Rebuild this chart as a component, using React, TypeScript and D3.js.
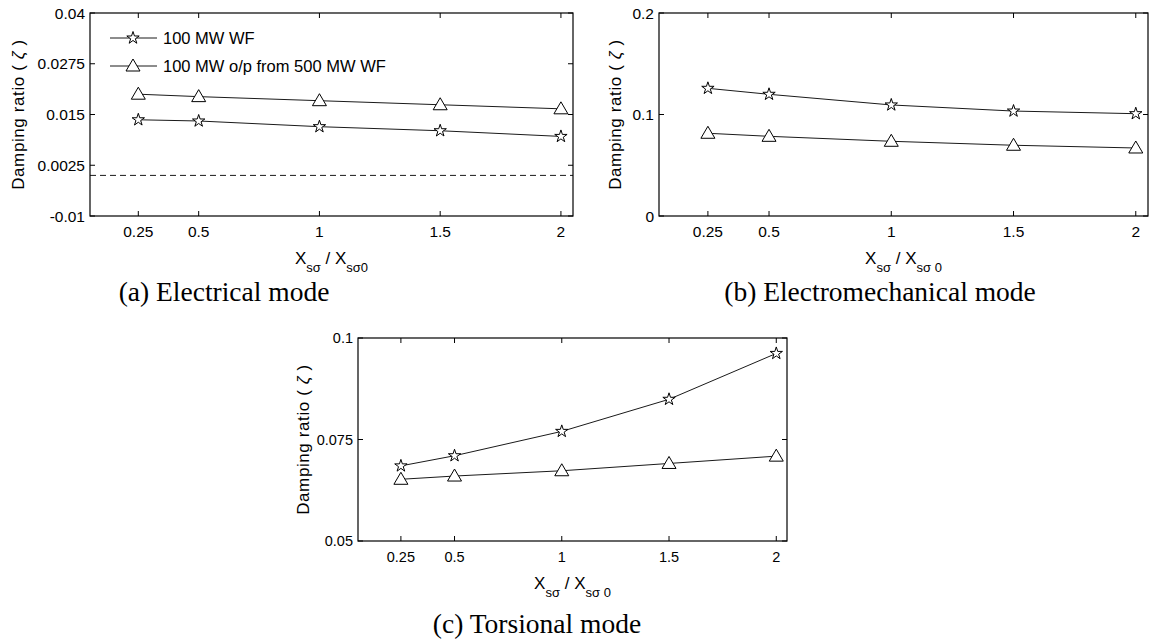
import React from "react";
import * as d3 from "d3";

// ---- data ----
const xValues = [0.25, 0.5, 1, 1.5, 2];
const xTickLabels = ["0.25", "0.5", "1", "1.5", "2"];
const seriesNames = ["100 MW WF", "100 MW o/p from 500 MW WF"];

const electrical100WF = [0.0137, 0.0134, 0.012, 0.011, 0.0096];
const electrical500WF = [0.02, 0.0194, 0.0184, 0.0174, 0.0164];
const electricalYTicks = [-0.01, 0.0025, 0.015, 0.0275, 0.04];
const electricalYTickLabels = ["-0.01", "0.0025", "0.015", "0.0275", "0.04"];

const electromech100WF = [0.1258, 0.1199, 0.1094, 0.1034, 0.1008];
const electromech500WF = [0.0815, 0.0785, 0.0736, 0.0697, 0.067];
const electromechYTicks = [0, 0.1, 0.2];
const electromechYTickLabels = ["0", "0.1", "0.2"];

const torsional100WF = [0.0685, 0.071, 0.077, 0.0849, 0.0962];
const torsional500WF = [0.0652, 0.066, 0.0673, 0.0691, 0.0709];
const torsionalYTicks = [0.05, 0.075, 0.1];
const torsionalYTickLabels = ["0.05", "0.075", "0.1"];

const xDomain: [number, number] = [0.05, 2.05];

const SANS = "Arial, 'Liberation Sans', Helvetica, sans-serif";
const SERIF = "'Times New Roman', 'Liberation Serif', serif";
const LINE = "#1a1a1a";

function starPath(r: number) {
  const ri = r * 0.382;
  const pts: string[] = [];
  for (let i = 0; i < 10; i++) {
    const a = -Math.PI / 2 + (i * Math.PI) / 5;
    const rr = i % 2 === 0 ? r : ri;
    pts.push(`${(rr * Math.cos(a)).toFixed(2)},${(rr * Math.sin(a)).toFixed(2)}`);
  }
  return "M" + pts.join("L") + "Z";
}
const triPath = "M0,-7L7,5L-7,5Z";

function Marker({ kind, x, y }: { kind: string; x: number; y: number }) {
  return (
    <path
      d={kind === "star" ? starPath(6.5) : triPath}
      transform={`translate(${x},${y})`}
      fill="white"
      stroke="#000"
      strokeWidth={1}
    />
  );
}

type PanelProps = {
  box: { x0: number; y0: number; x1: number; y1: number };
  yDomain: [number, number];
  yTicks: number[];
  yTickLabels: string[];
  s1: number[];
  s2: number[];
  legend?: boolean;
  zeroLine?: boolean;
  tickFont: number;
  yLabelX: number;
  xLabelSpace: boolean;
  caption: string;
  captionX: number;
  captionY: number;
};

function Panel(p: PanelProps) {
  const { box } = p;
  const x = d3.scaleLinear().domain(xDomain).range([box.x0, box.x1]);
  const y = d3.scaleLinear().domain(p.yDomain).range([box.y1, box.y0]);
  const line = d3
    .line<number>()
    .x((_, i) => x(xValues[i]))
    .y((d) => y(d));
  const tl = 5;
  const cx = (box.x0 + box.x1) / 2;
  const cy = (box.y0 + box.y1) / 2;
  return (
    <g>
      {p.zeroLine && (
        <line
          x1={box.x0}
          x2={box.x1}
          y1={y(0)}
          y2={y(0)}
          stroke={LINE}
          strokeWidth={1}
          strokeDasharray="6,4"
        />
      )}
      {xValues.map((v, i) => (
        <g key={"xt" + i}>
          <line x1={x(v)} x2={x(v)} y1={box.y1} y2={box.y1 - tl} stroke="#000" />
          <line x1={x(v)} x2={x(v)} y1={box.y0} y2={box.y0 + tl} stroke="#000" />
          <text
            x={x(v)}
            y={box.y1 + 21}
            textAnchor="middle"
            fontFamily={SANS}
            fontSize={p.tickFont}
          >
            {xTickLabels[i]}
          </text>
        </g>
      ))}
      {p.yTicks.map((v, i) => (
        <g key={"yt" + i}>
          <line x1={box.x0} x2={box.x0 + tl} y1={y(v)} y2={y(v)} stroke="#000" />
          <line x1={box.x1} x2={box.x1 - tl} y1={y(v)} y2={y(v)} stroke="#000" />
          <text
            x={box.x0 - 5}
            y={y(v)}
            dy="0.36em"
            textAnchor="end"
            fontFamily={SANS}
            fontSize={p.tickFont}
          >
            {p.yTickLabels[i]}
          </text>
        </g>
      ))}
      <rect
        x={box.x0}
        y={box.y0}
        width={box.x1 - box.x0}
        height={box.y1 - box.y0}
        fill="none"
        stroke="#000"
        strokeWidth={1.2}
      />
      <path d={line(p.s1) || ""} fill="none" stroke={LINE} strokeWidth={1} />
      <path d={line(p.s2) || ""} fill="none" stroke={LINE} strokeWidth={1} />
      {p.s1.map((v, i) => (
        <Marker key={"a" + i} kind="star" x={x(xValues[i])} y={y(v)} />
      ))}
      {p.s2.map((v, i) => (
        <Marker key={"b" + i} kind="tri" x={x(xValues[i])} y={y(v)} />
      ))}
      {p.legend && (
        <g>
          {seriesNames.map((name, i) => {
            const ly = box.y0 + 25 + i * 28;
            return (
              <g key={"lg" + i}>
                <line x1={box.x0 + 20} x2={box.x0 + 67} y1={ly} y2={ly} stroke={LINE} />
                <Marker kind={i === 0 ? "star" : "tri"} x={box.x0 + 43} y={ly} />
                <text
                  x={box.x0 + 73}
                  y={ly}
                  dy="0.36em"
                  fontFamily={SANS}
                  fontSize={16.5}
                >
                  {name}
                </text>
              </g>
            );
          })}
        </g>
      )}
      <text
        transform={`translate(${p.yLabelX},${cy}) rotate(-90)`}
        textAnchor="middle"
        dy="0.36em"
        fontFamily={SANS}
        fontSize={17}
        letterSpacing={0.6}
      >
        {"Damping ratio (  "}
        <tspan fontStyle="italic">ζ</tspan>
        {"  )"}
      </text>
      <text x={cx} y={box.y1 + 48} textAnchor="middle" fontFamily={SANS} fontSize={17}>
        <tspan>X</tspan>
        <tspan dy={8} fontSize={13}>
          sσ
        </tspan>
        <tspan dy={-8}> / X</tspan>
        <tspan dy={8} fontSize={13}>
          {p.xLabelSpace ? "sσ 0" : "sσ0"}
        </tspan>
      </text>
      <text
        x={p.captionX}
        y={p.captionY}
        textAnchor="middle"
        fontFamily={SERIF}
        fontSize={27.5}
      >
        {p.caption}
      </text>
    </g>
  );
}

export default function App() {
  return (
    <svg
      width={1152}
      height={642}
      style={{ position: "absolute", left: 0, top: 0, background: "#fff" }}
    >
      <rect width={1152} height={642} fill="#fff" />
      <Panel
        box={{ x0: 90, y0: 13, x1: 573, y1: 216 }}
        yDomain={[-0.01, 0.04]}
        yTicks={electricalYTicks}
        yTickLabels={electricalYTickLabels}
        s1={electrical100WF}
        s2={electrical500WF}
        legend
        zeroLine
        tickFont={15.5}
        yLabelX={18}
        xLabelSpace={false}
        caption="(a) Electrical mode"
        captionX={224}
        captionY={301}
      />
      <Panel
        box={{ x0: 659, y0: 13, x1: 1148, y1: 216 }}
        yDomain={[0, 0.2]}
        yTicks={electromechYTicks}
        yTickLabels={electromechYTickLabels}
        s1={electromech100WF}
        s2={electromech500WF}
        tickFont={15.5}
        yLabelX={615}
        xLabelSpace={true}
        caption="(b) Electromechanical mode"
        captionX={880}
        captionY={301}
      />
      <Panel
        box={{ x0: 358, y0: 338, x1: 787, y1: 541 }}
        yDomain={[0.05, 0.1]}
        yTicks={torsionalYTicks}
        yTickLabels={torsionalYTickLabels}
        s1={torsional100WF}
        s2={torsional500WF}
        tickFont={14.5}
        yLabelX={303}
        xLabelSpace={true}
        caption="(c) Torsional mode"
        captionX={537}
        captionY={633}
      />
    </svg>
  );
}
